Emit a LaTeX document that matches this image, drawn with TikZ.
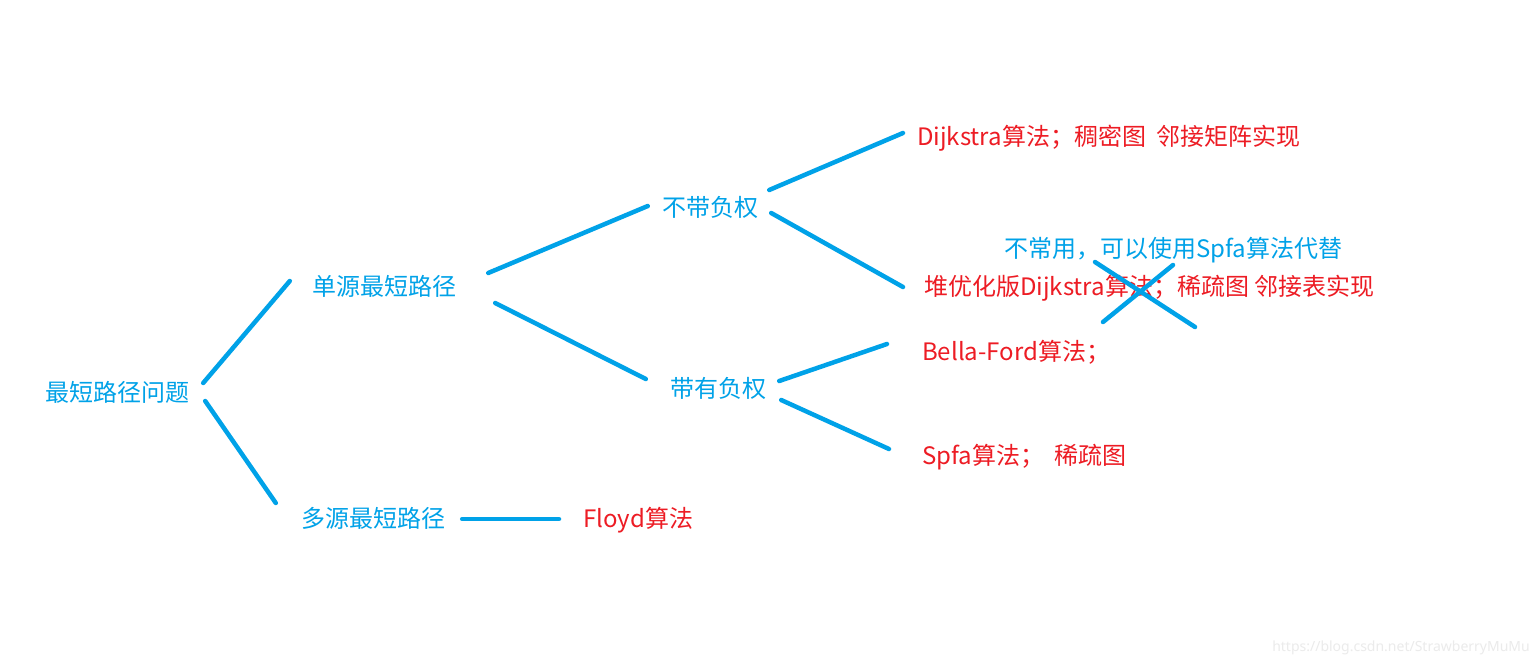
\documentclass[tikz,border=0pt]{standalone}
\usepackage{fontspec}
\setmainfont{Noto Sans CJK SC}
\newfontfamily\markfont{Noto Sans}
\usepackage{tikz}
\definecolor{paintblue}{RGB}{0,162,232}
\definecolor{paintred}{RGB}{237,28,36}
\tikzset{
    topic/.style = {
        inner sep = 0pt, text = paintblue,
        font = \fontsize{24}{28}\selectfont
    },
    algo/.style = {
        inner sep = 0pt, text = paintred, anchor = west,
        font = \fontsize{24}{28}\selectfont
    },
    branch/.style = {draw = paintblue, line width = 4.5pt, line cap = round}
}
\begin{document}
\begin{tikzpicture}[x=1pt, y=-1pt]

    % Canvas
    \useasboundingbox[fill = white] (0,0) rectangle (1536,667);

    % Problem tree
    \node[topic] (root) at (117,392) {最短路径问题};
    \node[topic] (single) at (384,286) {单源最短路径};
    \node[topic] (multi) at (373,518) {多源最短路径};
    \node[topic] (nonneg) at (710,207) {不带负权};
    \node[topic] (neg) at (718,388) {带有负权};

    % Algorithms
    \node[algo] (dijk) at (917,138) {Dijkstra算法；稠密图\ \ 邻接矩阵实现};
    \node[algo] (heap) at (924,288) {堆优化版Dijkstra算法；稀疏图 邻接表实现};
    \node[algo] (bford) at (922,352) {Bella-Ford算法；};
    \node[algo] (spfa) at (922,457) {Spfa算法；\ \ 稀疏图};
    \node[algo] (floyd) at (583,520) {Floyd算法};

    % Note
    \node[topic, anchor = west] (note) at (1004,250) {不常用，可以使用Spfa算法代替};

    % Branches
    \draw[branch] ([shift={(14,-9)}]root.east) -- ([shift={(-22,-5)}]single.west);
    \draw[branch] ([shift={(16,9)}]root.east) -- ([shift={(-25,-15)}]multi.west);
    \draw[branch] ([shift={(32,-13)}]single.east) -- ([shift={(-14,-1)}]nonneg.west);
    \draw[branch] ([shift={(39,17)}]single.east) -- ([shift={(-24,-9)}]neg.west);
    \draw[branch] ([shift={(17,1)}]multi.east) -- ([shift={(-24,-1)}]floyd.west);
    \draw[branch] ([shift={(11,-17)}]nonneg.east) -- ([shift={(-14,-5)}]dijk.west);
    \draw[branch] ([shift={(13,6)}]nonneg.east) -- ([shift={(-21,-1)}]heap.west);
    \draw[branch] ([shift={(13,-7)}]neg.east) -- ([shift={(-35,-8)}]bford.west);
    \draw[branch] ([shift={(15,12)}]neg.east) -- ([shift={(-33,-8)}]spfa.west);

    % Cross over heap version
    \draw[branch] (1103,322) -- (1173,265);
    \draw[branch] (1095,262) -- (1195,327);

    % Watermark
    \node[anchor = east, inner sep = 0pt, text = black!8, font = \markfont\fontsize{14}{16}\selectfont] (mark) at (1530,648) {https://blog.csdn.net/StrawberryMuMu};

\end{tikzpicture}
\end{document}
